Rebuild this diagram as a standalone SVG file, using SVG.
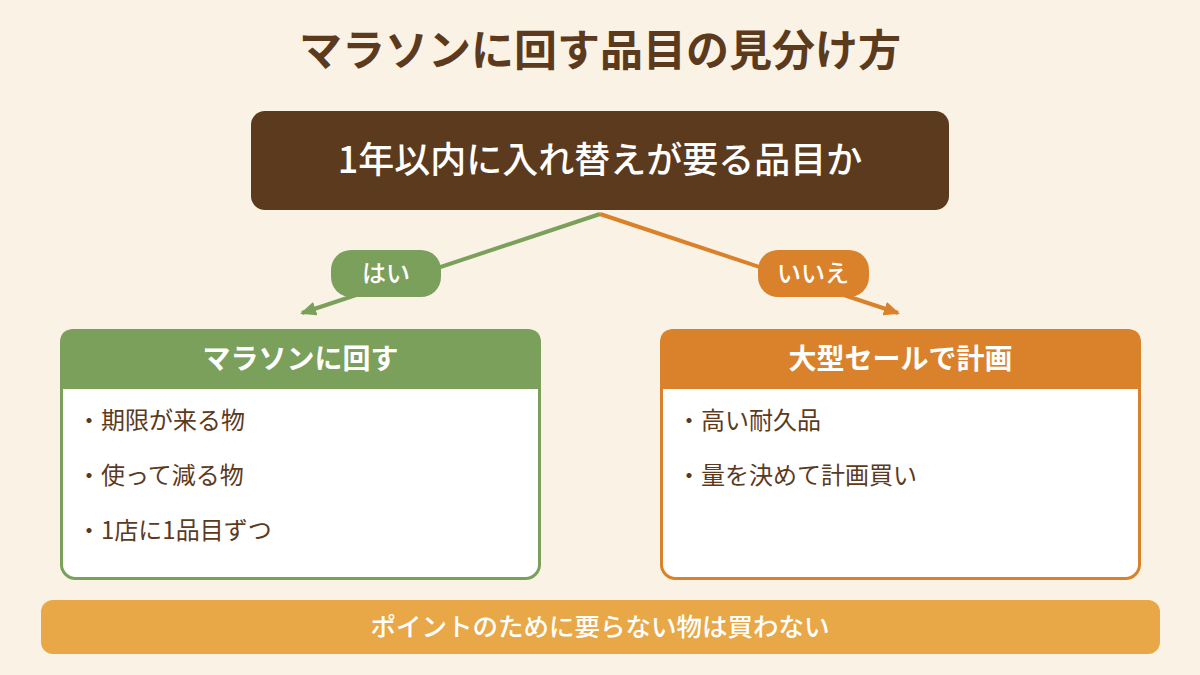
<svg xmlns="http://www.w3.org/2000/svg" width="1200" height="675" viewBox="0 0 1200 675">
  <style>
    text { font-family: "Noto Sans CJK JP", "Noto Sans", sans-serif; }
    .title { font-size: 43px; font-weight: 700; fill: #5c3a1e; text-anchor: middle; }
    .q { font-size: 36px; font-weight: 500; fill: #ffffff; text-anchor: middle; }
    .pill { font-size: 24px; font-weight: 500; fill: #ffffff; text-anchor: middle; }
    .head { font-size: 28px; font-weight: 700; fill: #ffffff; text-anchor: middle; }
    .item { font-size: 24px; font-weight: 400; fill: #5c3a1e; }
    .foot { font-size: 25.5px; font-weight: 500; fill: #ffffff; text-anchor: middle; }
    .green { fill: #7ba05b; }
    .orange { fill: #d9822b; }
  </style>
  <defs>
    <marker id="arrG" markerWidth="16" markerHeight="14" refX="14" refY="7" orient="auto" markerUnits="userSpaceOnUse">
      <path d="M0,0 L16,7 L0,14 Z" fill="#7ba05b"/>
    </marker>
    <marker id="arrO" markerWidth="16" markerHeight="14" refX="14" refY="7" orient="auto" markerUnits="userSpaceOnUse">
      <path d="M0,0 L16,7 L0,14 Z" fill="#d9822b"/>
    </marker>
  </defs>
  <rect x="0" y="0" width="1200" height="675" fill="#faf2e4"/>

  <g id="title">
    <text class="title" x="600" y="66">マラソンに回す品目の見分け方</text>
  </g>

  <g id="connectors">
    <line x1="600" y1="214" x2="302" y2="313" stroke="#7ba05b" stroke-width="4" marker-end="url(#arrG)"/>
    <line x1="600" y1="214" x2="898" y2="313" stroke="#d9822b" stroke-width="4" marker-end="url(#arrO)"/>
    <g id="label-yes">
      <rect class="green" x="331" y="250" width="110" height="47" rx="20"/>
      <text class="pill" x="386" y="282">はい</text>
    </g>
    <g id="label-no">
      <rect class="orange" x="758" y="250" width="111" height="47" rx="20"/>
      <text class="pill" x="813" y="282">いいえ</text>
    </g>
  </g>

  <g id="question">
    <rect x="251" y="111" width="698" height="99" rx="14" fill="#5c3a1e"/>
    <text class="q" x="600" y="173">1年以内に入れ替えが要る品目か</text>
  </g>

  <g id="marathon">
    <rect x="61.5" y="330.5" width="478" height="248" rx="14" fill="#ffffff" stroke="#7ba05b" stroke-width="3"/>
    <path class="green" d="M60,389 L60,343 Q60,329 74,329 L527,329 Q541,329 541,343 L541,389 Z"/>
    <text class="head" x="300.5" y="369">マラソンに回す</text>
    <text class="item" x="77" y="429">・期限が来る物</text>
    <text class="item" x="77" y="484">・使って減る物</text>
    <text class="item" x="77" y="539">・1店に1品目ずつ</text>
  </g>

  <g id="sale">
    <rect x="661.5" y="330.5" width="478" height="248" rx="14" fill="#ffffff" stroke="#d9822b" stroke-width="3"/>
    <path class="orange" d="M660,389 L660,343 Q660,329 674,329 L1127,329 Q1141,329 1141,343 L1141,389 Z"/>
    <text class="head" x="900.5" y="369">大型セールで計画</text>
    <text class="item" x="677" y="429">・高い耐久品</text>
    <text class="item" x="677" y="484">・量を決めて計画買い</text>
  </g>

  <g id="footer">
    <rect x="41" y="600" width="1119" height="54" rx="12" fill="#e8a847"/>
    <text class="foot" x="600" y="636">ポイントのために要らない物は買わない</text>
  </g>
</svg>
